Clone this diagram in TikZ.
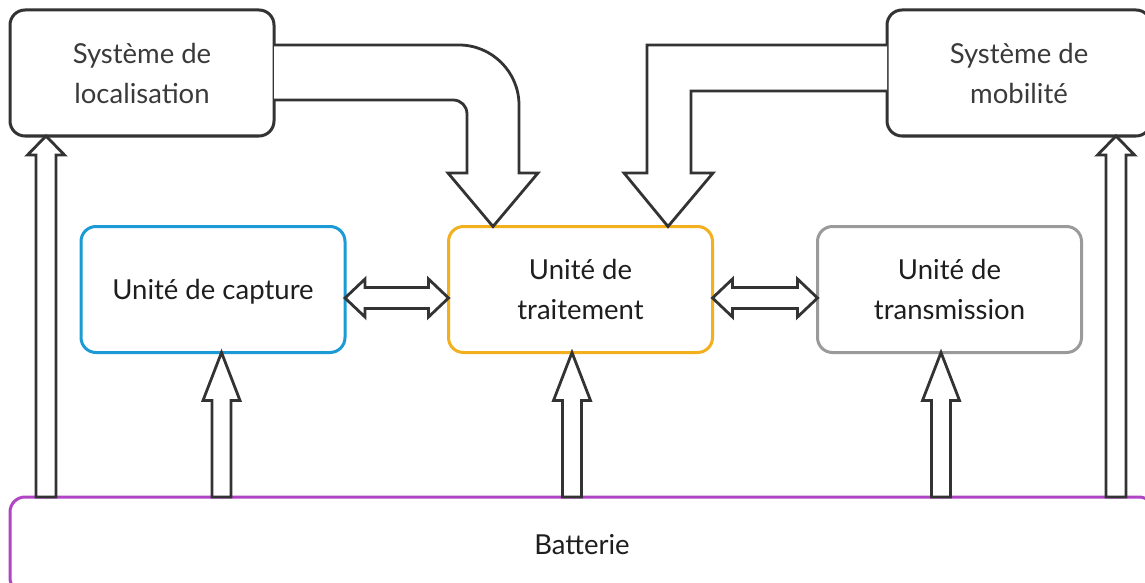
\documentclass[tikz,border=0pt]{standalone}
\usepackage{fontspec}
\setmainfont{Lato}
\usetikzlibrary{calc}
\definecolor{dk}{HTML}{333333}
\definecolor{tdk}{HTML}{3A3A3A}
\definecolor{txt}{HTML}{1E1E1E}
\definecolor{blu}{HTML}{1B9AD6}
\definecolor{org}{HTML}{F2AF1E}
\definecolor{gry}{HTML}{9A9A9A}
\definecolor{pur}{HTML}{B044C4}
\newcommand\UpBlk[5]{% tip, base, head length, head half, shaft half
  \draw[blk] (#1) -- ($(#1)+(#4,#3)$) -- ($(#1)+(#5,#3)$) -- ($(#2)+(#5,0)$)
    -- ($(#2)+(-#5,0)$) -- ($(#1)+(-#5,#3)$) -- ($(#1)+(-#4,#3)$) -- cycle;}
\newcommand\DblBlk[5]{% left tip, right tip, head length, head half, shaft half
  \draw[blk] (#1) -- ($(#1)+(#3,-#4)$) -- ($(#1)+(#3,-#5)$) -- ($(#2)+(-#3,-#5)$)
    -- ($(#2)+(-#3,-#4)$) -- (#2) -- ($(#2)+(-#3,#4)$) -- ($(#2)+(-#3,#5)$)
    -- ($(#1)+(#3,#5)$) -- ($(#1)+(#3,#4)$) -- cycle;}
\begin{document}
\begin{tikzpicture}[x=1pt,y=-1pt,
  box/.style={draw, rounded corners=15pt, line width=3pt, minimum width=264pt,
    minimum height=126pt, inner sep=0pt, outer sep=0pt, align=center, fill=white,
    text=txt, font=\fontsize{27.5}{40}\selectfont},
  blk/.style={draw=dk, line width=2.8pt, line join=miter, fill=white}]
\useasboundingbox (0,0) rectangle (1145,583);
\clip (0,0) rectangle (1145,583);
\fill[white] (0,0) rectangle (1145,583);
% boxes
\node[box, draw=dk, text=tdk] (loc) at (142,73) {Système de\\localisation};
\node[box, draw=dk, text=tdk] (mob) at (1019,73) {Système de\\mobilité};
\node[box, draw=blu, text depth=0pt] (cap) at (213,289.5) {Unité de capture};
\node[box, draw=org] (tra) at (580.5,289.5) {Unité de\\traitement};
\node[box, draw=gry] (trn) at (949.5,289.5) {Unité de\\transmission};
\node[box, draw=pur, minimum width=1144pt, minimum height=96pt] (bat) at (582,545) {Batterie};
% vertical power arrows
\coordinate (t1) at ($(loc.south)+(-96,0)$);
\coordinate (t2) at ($(mob.south)+(97,0)$);
\coordinate (t3) at ($(cap.south)+(8.5,0)$);
\coordinate (t4) at ($(tra.south)+(-8.5,0)$);
\coordinate (t5) at ($(trn.south)+(-8.5,0)$);
\UpBlk{t1}{t1 |- bat.north}{19}{18.5}{10}
\UpBlk{t2}{t2 |- bat.north}{19}{18.5}{10}
\UpBlk{t3}{t3 |- bat.north}{48}{18.5}{9.5}
\UpBlk{t4}{t4 |- bat.north}{48}{18.5}{9.5}
\UpBlk{t5}{t5 |- bat.north}{48}{18.5}{9.5}
% horizontal double arrows
\coordinate (h1) at ($(cap.east)+(0,8.5)$);
\coordinate (h2) at ($(tra.west)+(0,8.5)$);
\coordinate (h3) at ($(tra.east)+(0,8.5)$);
\coordinate (h4) at ($(trn.west)+(0,8.5)$);
\DblBlk{h1}{h2}{20}{19}{10.5}
\DblBlk{h3}{h4}{20}{19}{10.5}
% big arrows into the processing unit
\coordinate (lt) at ($(tra.north)+(-87.5,0)$);
\coordinate (mt) at ($(tra.north)+(87.5,0)$);
\draw[blk] ($(loc.east)+(0,-28)$) -- (459,45) .. controls (492,45) and (519,72) .. (519,105)
  -- (519,173) -- (538,173) -- (lt) -- (448,173) -- (467,173) -- (467,114)
  .. controls (467,106) and (461,100) .. (453,100) -- ($(loc.east)+(0,27)$);
\draw[blk] ($(mob.west)+(0,-28)$) -- (647,45) -- (647,173) -- (624,173) -- (mt)
  -- (713,173) -- (691,173) -- (691,91) -- ($(mob.west)+(0,18)$);
\end{tikzpicture}
\end{document}
